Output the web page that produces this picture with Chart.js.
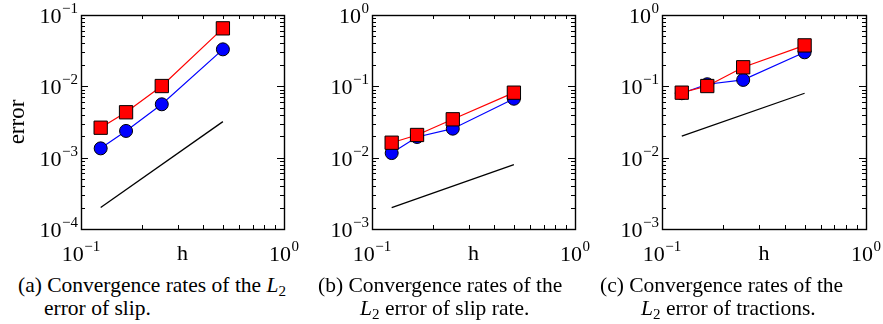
<!DOCTYPE html>
<html><head><meta charset="utf-8">
<script src="https://cdn.jsdelivr.net/npm/chart.js@4"></script>
<style>
body{margin:0;width:883px;height:324px;position:relative;background:#fff;overflow:hidden;font-family:'Times New Roman','Liberation Serif',serif;}
canvas{position:absolute;top:0;}
.cap{position:absolute;font-size:21.5px;line-height:23px;white-space:nowrap;color:#000;font-family:'Times New Roman','Liberation Serif',serif;}
.cap i{font-style:italic}
.cap sub{font-size:0.7em;vertical-align:-0.25em;line-height:0}
</style></head><body>
<canvas id="ca" width="302" height="270" style="left:0px"></canvas>
<canvas id="cb" width="302" height="270" style="left:291px"></canvas>
<canvas id="cc" width="302" height="270" style="left:581px"></canvas>
<div class="cap" style="left:18px;top:274px">(a) Convergence rates of the <i>L</i><sub>2</sub></div>
<div class="cap" style="left:44px;top:297px">error of slip.</div>
<div class="cap" style="left:318px;top:274px">(b) Convergence rates of the</div>
<div class="cap" style="left:360px;top:297px"><i>L</i><sub>2</sub> error of slip rate.</div>
<div class="cap" style="left:600px;top:274px">(c) Convergence rates of the</div>
<div class="cap" style="left:641px;top:297px"><i>L</i><sub>2</sub> error of tractions.</div>
<script>
// mesh sizes
const h = [0.125, 0.1667, 0.25, 0.5];
const hRef = [0.125, 0.5];
// (a) L2 error of slip
const slipBlue = [0.00135, 0.00237, 0.0056, 0.033];
const slipRed = [0.00263, 0.00433, 0.0101, 0.065];
const slipRef = [0.0002, 0.0032];
// (b) L2 error of slip rate
const rateBlue = [0.0116, 0.0195, 0.0255, 0.067];
const rateRed = [0.0162, 0.0208, 0.0345, 0.0815];
const rateRef = [0.002, 0.008];
// (c) L2 error of tractions
const tracBlue = [0.08, 0.107, 0.123, 0.30];
const tracRed = [0.0815, 0.101, 0.185, 0.375];
const tracRef = [0.02, 0.08];
// axis ranges
const xRange = [0.1, 1];
const yRangeA = [1e-4, 1e-1];
const yRangeB = [1e-3, 1e0];
const yRangeC = [1e-3, 1e0];
const xTitle = 'h';
const yTitle = 'error';

const FONT = "'Times New Roman','Liberation Serif',serif";

function logTicks(min, max){
  const out = [];
  const e0 = Math.floor(Math.log10(min) + 1e-9), e1 = Math.round(Math.log10(max));
  for (let e = e0; e < e1; e++){
    for (let m = 1; m <= 9; m++){
      const v = m * Math.pow(10, e);
      if (v >= min*0.999 && v <= max*1.001) out.push({v, major: m === 1, e});
    }
  }
  out.push({v: max, major: true, e: e1});
  return out;
}

function drawPow(ctx, e, x, y, align){
  const base = '10', sup = (e < 0 ? '\u2212' : '') + Math.abs(e);
  ctx.font = '22px ' + FONT;
  const wb = ctx.measureText(base).width;
  ctx.font = '15px ' + FONT;
  const ws = ctx.measureText(sup).width;
  const w = wb + ws + 0.5;
  let x0 = align === 'right' ? x - w : x - w/2;
  ctx.textAlign = 'left';
  ctx.textBaseline = 'alphabetic';
  ctx.font = '22px ' + FONT;
  ctx.fillText(base, x0, y);
  ctx.font = '15px ' + FONT;
  ctx.fillText(sup, x0 + wb + 0.5, y - 10);
}

const framePlugin = {
  id: 'frame',
  afterDraw(chart, args, opts){
    const {ctx, chartArea: a, scales: {x, y}} = chart;
    ctx.save();
    ctx.fillStyle = '#000';
    ctx.strokeStyle = '#000';
    ctx.lineWidth = 1;
    const xt = logTicks(x.min, x.max), yt = logTicks(y.min, y.max);
    ctx.beginPath();
    xt.forEach(t => {
      const px = Math.round(x.getPixelForValue(t.v)) + 0.5;
      const L = t.major ? 7 : 4;
      ctx.moveTo(px, a.bottom); ctx.lineTo(px, a.bottom - L);
      ctx.moveTo(px, a.top); ctx.lineTo(px, a.top + L);
    });
    yt.forEach(t => {
      const py = Math.round(y.getPixelForValue(t.v)) + 0.5;
      const L = t.major ? 7 : 4;
      ctx.moveTo(a.left, py); ctx.lineTo(a.left + L, py);
      ctx.moveTo(a.right, py); ctx.lineTo(a.right - L, py);
    });
    ctx.stroke();
    ctx.lineWidth = 1.4;
    ctx.strokeRect(Math.round(a.left) + 0.5, Math.round(a.top) + 0.5, Math.round(a.right - a.left), Math.round(a.bottom - a.top));
    xt.filter(t => t.major).forEach(t => drawPow(ctx, t.e, x.getPixelForValue(t.v), a.bottom + 32, 'center'));
    yt.filter(t => t.major).forEach(t => drawPow(ctx, t.e, a.left - 3, y.getPixelForValue(t.v) + 8, 'right'));
    ctx.font = '22px ' + FONT;
    ctx.textAlign = 'center';
    ctx.fillText(xTitle, (a.left + a.right) / 2, a.bottom + 31);
    if (opts.yTitle){
      ctx.translate(24, (a.top + a.bottom) / 2);
      ctx.rotate(-Math.PI / 2);
      ctx.font = '23px ' + FONT;
      ctx.fillText(yTitle, 0, 0);
    }
    ctx.restore();
  }
};

function series(xs, ys, color, style, radius, order){
  return {
    data: xs.map((v, i) => ({x: v, y: ys[i]})),
    showLine: true, borderColor: color, backgroundColor: color, borderWidth: 1.2,
    pointStyle: style, pointRadius: radius, pointBackgroundColor: color,
    pointBorderColor: '#000', pointBorderWidth: 1, order
  };
}

function makeChart(id, blue, red, ref, yr, withTitle){
  new Chart(document.getElementById(id), {
    type: 'scatter',
    data: {datasets: [
      series(h, red, '#ff0000', 'rect', 9.4, 0),
      series(h, blue, '#0000ff', 'circle', 6.5, 1),
      Object.assign(series(hRef, ref, '#000000', 'circle', 0, 2), {borderWidth: 1.3})
    ]},
    options: {
      responsive: false, animation: false, devicePixelRatio: 1, events: [],
      layout: {padding: {left: 81, right: id === 'cc' ? 17 : 18, top: 15, bottom: 41}},
      plugins: {legend: {display: false}, tooltip: {enabled: false}, frame: {yTitle: withTitle}},
      scales: {
        x: {type: 'logarithmic', min: xRange[0], max: xRange[1], display: false},
        y: {type: 'logarithmic', min: yr[0], max: yr[1], display: false}
      }
    },
    plugins: [framePlugin]
  });
}
makeChart('ca', slipBlue, slipRed, slipRef, yRangeA, true);
makeChart('cb', rateBlue, rateRed, rateRef, yRangeB, false);
makeChart('cc', tracBlue, tracRed, tracRef, yRangeC, false);
</script>
</body></html>
